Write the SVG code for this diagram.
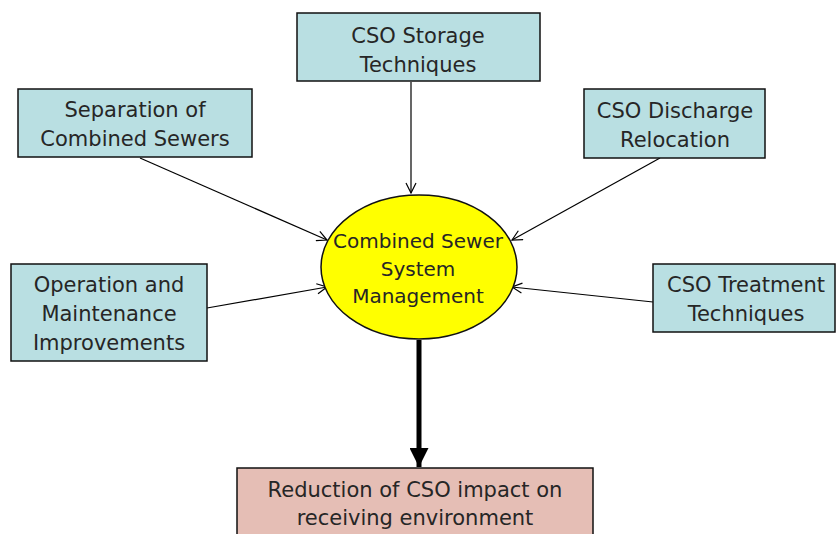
<svg xmlns="http://www.w3.org/2000/svg" width="836" height="534" viewBox="0 0 836 534">
  <style>
    .box { fill: #b9dfe2; stroke: #111; stroke-width: 1.5; }
    .label { font-family: "DejaVu Sans", "Liberation Sans", sans-serif; font-size: 21px; fill: #262626; text-anchor: middle; }
    .small { font-size: 20px; }
    .link { stroke: #000; stroke-width: 1.2; fill: none; marker-end: url(#open); }
  </style>
  <defs>
    <marker id="open" viewBox="0 0 12 12" refX="11" refY="6" markerWidth="12" markerHeight="12" markerUnits="userSpaceOnUse" orient="auto">
      <path d="M1,1 L11,6 L1,11" fill="none" stroke="#000" stroke-width="1.2"/>
    </marker>
    <marker id="solid" viewBox="0 0 10 10" refX="10" refY="5" markerWidth="4" markerHeight="3.8" orient="auto">
      <path d="M0,0 L10,5 L0,10 Z" fill="#000"/>
    </marker>
  </defs>

  <rect width="836" height="534" fill="#fff"/>

  <g id="connectors">
    <line class="link" x1="411" y1="82" x2="411" y2="193"/>
    <line class="link" x1="140" y1="158" x2="327" y2="240"/>
    <line class="link" x1="660" y1="158" x2="512" y2="240"/>
    <line class="link" x1="207" y1="308" x2="327" y2="287"/>
    <line class="link" x1="653" y1="302" x2="512" y2="287"/>
    <line x1="419" y1="340" x2="419" y2="467" stroke="#000" stroke-width="5" marker-end="url(#solid)"/>
  </g>

  <g id="storage">
    <rect class="box" x="297" y="13" width="243" height="68"/>
    <text class="label" x="418" y="43">CSO Storage</text>
    <text class="label" x="418" y="72">Techniques</text>
  </g>

  <g id="separation">
    <rect class="box" x="18" y="89" width="234" height="68"/>
    <text class="label" x="135" y="117">Separation of</text>
    <text class="label" x="135" y="146">Combined Sewers</text>
  </g>

  <g id="relocation">
    <rect class="box" x="584" y="89" width="181" height="69"/>
    <text class="label" x="675" y="118">CSO Discharge</text>
    <text class="label" x="675" y="147">Relocation</text>
  </g>

  <g id="operation">
    <rect class="box" x="11" y="264" width="196" height="97"/>
    <text class="label" x="109" y="292">Operation and</text>
    <text class="label" x="109" y="321">Maintenance</text>
    <text class="label" x="109" y="350">Improvements</text>
  </g>

  <g id="treatment">
    <rect class="box" x="653" y="264" width="182" height="68"/>
    <text class="label" x="746" y="292">CSO Treatment</text>
    <text class="label" x="746" y="321">Techniques</text>
  </g>

  <g id="management">
    <ellipse cx="419" cy="267" rx="98" ry="72" fill="#ffff00" stroke="#111" stroke-width="1.5"/>
    <text class="label small" x="418" y="248">Combined Sewer</text>
    <text class="label small" x="418" y="276">System</text>
    <text class="label small" x="418" y="303">Management</text>
  </g>

  <g id="reduction">
    <rect x="237" y="468" width="356" height="80" fill="#e5beb5" stroke="#111" stroke-width="1.5"/>
    <text class="label" x="415" y="497">Reduction of CSO impact on</text>
    <text class="label" x="415" y="525">receiving environment</text>
  </g>
</svg>
